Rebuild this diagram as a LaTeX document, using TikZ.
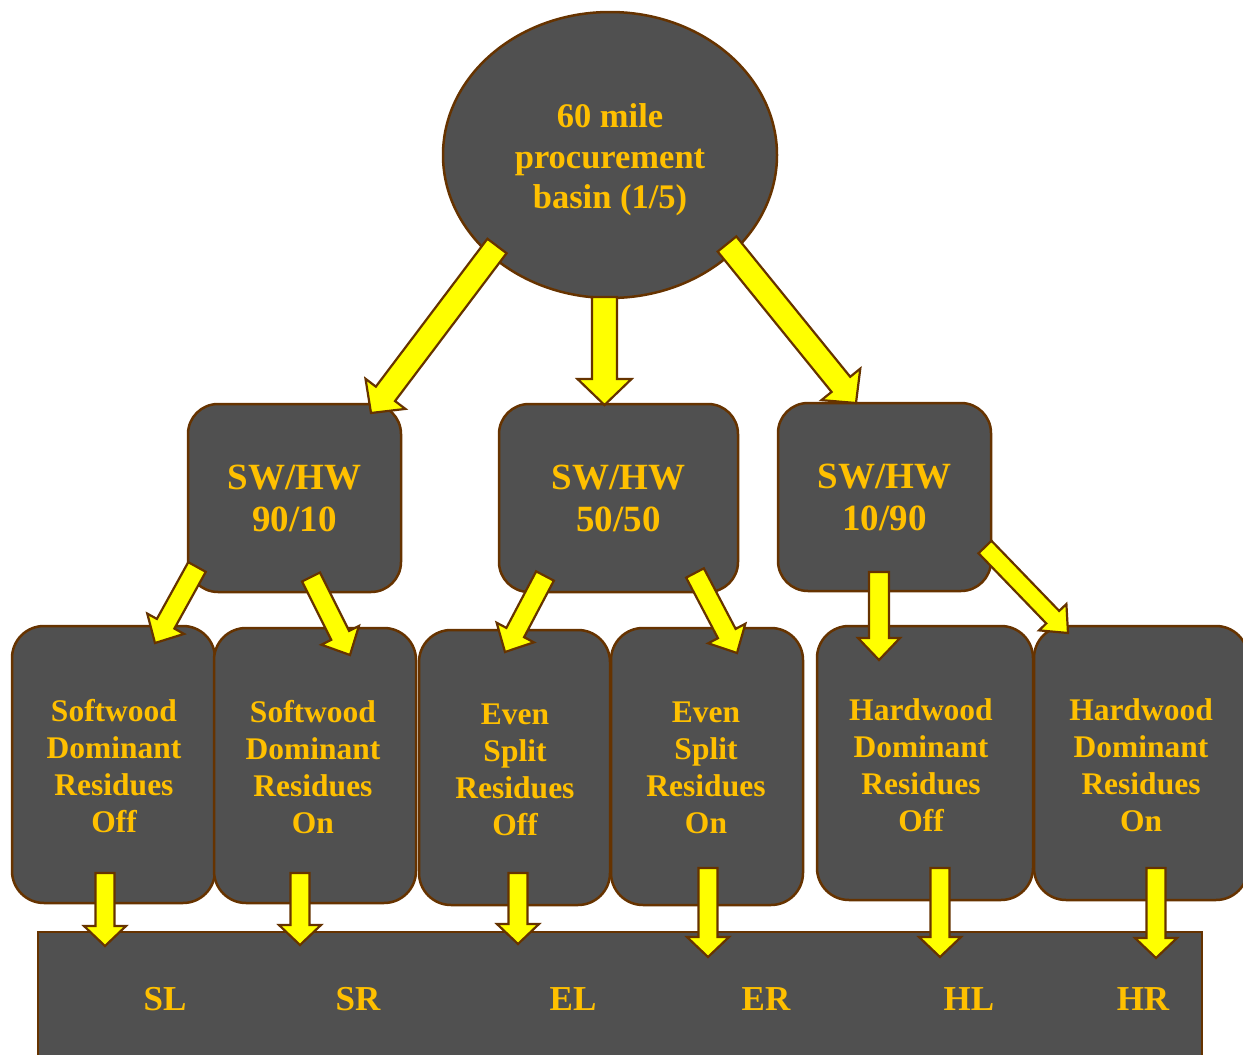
\documentclass[tikz,border=0pt]{standalone}
\usepackage{fontspec}
\setmainfont{Liberation Serif}
\usetikzlibrary{shapes.geometric,calc}
\definecolor{boxgray}{RGB}{80,80,80}
\definecolor{edgebrown}{RGB}{102,51,0}
\definecolor{txtgold}{RGB}{255,192,0}
\definecolor{arryellow}{RGB}{255,255,0}
\tikzset{
  basebox/.style={draw=edgebrown, fill=boxgray, line width=2.5pt, inner sep=0pt, text=txtgold, align=center, font=\bfseries},
  toprow/.style={basebox, rectangle, rounded corners=30pt, font=\bfseries\fontsize{37}{42}\selectfont},
  leafbox/.style={basebox, rectangle, rounded corners=32pt, font=\bfseries\fontsize{31.5}{37}\selectfont},
  rootell/.style={basebox, ellipse},
  roottext/.style={text=txtgold, align=center, inner sep=0pt, font=\bfseries\fontsize{34.5}{40.5}\selectfont},
  leaftext/.style={text=txtgold, align=center, inner sep=0pt, font=\bfseries\fontsize{31.5}{37}\selectfont},
  botlabel/.style={text=txtgold, font=\bfseries\fontsize{35}{40}\selectfont, inner sep=0pt},
  arrstyle/.style={draw=edgebrown, fill=arryellow, line width=2.2pt, line join=miter}
}
% start, end, shaft half width, head half width, head length
\newcommand\blockarr[5]{%
  \coordinate (bah) at ($(#2)!#5!(#1)$);
  \filldraw[arrstyle] ($(#1)!#3!90:(#2)$) -- ($(bah)!#3!90:(#2)$) -- ($(bah)!#4!90:(#2)$)
    -- (#2) -- ($(bah)!#4!-90:(#2)$) -- ($(bah)!#3!-90:(#2)$) -- ($(#1)!#3!-90:(#2)$) -- cycle;
}
\begin{document}
\begin{tikzpicture}[x=1pt,y=-1pt]
\useasboundingbox (0,0) rectangle (1243,1055);
\clip (0,0) rectangle (1243,1055);
% root
\node[rootell, minimum width=334pt, minimum height=286pt] (root) at (610,155) {};
\node[roottext] (roottxt) at (610,160) {60 mile\\procurement\\basin (1/5)};
% second row
\node[toprow, minimum width=213pt, minimum height=188pt] (b1) at (294.5,498) {SW/HW\\90/10};
\node[toprow, minimum width=239pt, minimum height=188pt] (b2) at (618.5,498) {SW/HW\\50/50};
\node[toprow, minimum width=213pt, minimum height=188pt] (b3) at (884.5,497) {SW/HW\\10/90};
% third row
\node[leafbox, minimum width=203pt, minimum height=277pt] (c1) at (113.5,764.5) {};
\node[leafbox, minimum width=202pt, minimum height=275pt] (c2) at (315,765.5) {};
\node[leafbox, minimum width=191pt, minimum height=275pt] (c3) at (514.5,767.5) {};
\node[leafbox, minimum width=192pt, minimum height=277pt] (c4) at (707,766.5) {};
\node[leafbox, minimum width=216pt, minimum height=274pt] (c5) at (925,763) {};
\node[leafbox, minimum width=214pt, minimum height=274pt] (c6) at (1141,763) {};
\node[leaftext] (t1) at (114,766.5) {Softwood\\Dominant\\Residues\\Off};
\node[leaftext] (t2) at (313,767.5) {Softwood\\Dominant\\Residues\\On};
\node[leaftext] (t3) at (515,769.5) {Even\\Split\\Residues\\Off};
\node[leaftext] (t4) at (706,768) {Even\\Split\\Residues\\On};
\node[leaftext] (t5) at (921,765) {Hardwood\\Dominant\\Residues\\Off};
\node[leaftext] (t6) at (1141,765) {Hardwood\\Dominant\\Residues\\On};
% bottom bar
\node[basebox, rectangle, minimum width=1164pt, minimum height=140pt] (bot) at (620,1002) {};
\node[botlabel] (sl) at (165,999) {SL};
\node[botlabel] (sr) at (358,999) {SR};
\node[botlabel] (el) at (573,999) {EL};
\node[botlabel] (er) at (766,999) {ER};
\node[botlabel] (hl) at (969,999) {HL};
\node[botlabel] (hr) at (1143,999) {HR};
% arrow endpoints
\coordinate (r1s) at (497,246);  \coordinate (r1e) at (371,413);
\coordinate (r2s) at (604.5,297); \coordinate (r2e) at (604.5,405);
\coordinate (r3s) at (727,244);  \coordinate (r3e) at (856,403);
\coordinate (a1s) at (197,567);  \coordinate (a1e) at (155,643);
\coordinate (a2s) at (311,577);  \coordinate (a2e) at (350,655);
\coordinate (a3s) at (545,576);  \coordinate (a3e) at (505,652);
\coordinate (a4s) at (695,573);  \coordinate (a4e) at (737,653);
\coordinate (a5s) at (879,572);  \coordinate (a5e) at (879,660);
\coordinate (a6s) at (985,547);  \coordinate (a6e) at (1068,633);
\coordinate (d1s) at (105,873);  \coordinate (d1e) at (105,946);
\coordinate (d2s) at (300,873);  \coordinate (d2e) at (300,945);
\coordinate (d3s) at (518,873);  \coordinate (d3e) at (518,944);
\coordinate (d4s) at (708,868);  \coordinate (d4e) at (708,957);
\coordinate (d5s) at (940,868);  \coordinate (d5e) at (940,957);
\coordinate (d6s) at (1156,868); \coordinate (d6e) at (1156,958);
% arrows
\blockarr{r1s}{r1e}{12pt}{25pt}{24pt}
\blockarr{r2s}{r2e}{12.5pt}{27pt}{26pt}
\blockarr{r3s}{r3e}{12pt}{25pt}{24pt}
\blockarr{a1s}{a1e}{10pt}{21pt}{22pt}
\blockarr{a2s}{a2e}{10pt}{21pt}{22pt}
\blockarr{a3s}{a3e}{10pt}{21pt}{22pt}
\blockarr{a4s}{a4e}{10pt}{21pt}{22pt}
\blockarr{a5s}{a5e}{10pt}{21pt}{22pt}
\blockarr{a6s}{a6e}{9pt}{19pt}{22pt}
\blockarr{d1s}{d1e}{9.5pt}{21pt}{20pt}
\blockarr{d2s}{d2e}{9.5pt}{21pt}{20pt}
\blockarr{d3s}{d3e}{9.5pt}{21pt}{20pt}
\blockarr{d4s}{d4e}{9.5pt}{21pt}{20pt}
\blockarr{d5s}{d5e}{9.5pt}{21pt}{20pt}
\blockarr{d6s}{d6e}{9.5pt}{21pt}{20pt}
\end{tikzpicture}
\end{document}
